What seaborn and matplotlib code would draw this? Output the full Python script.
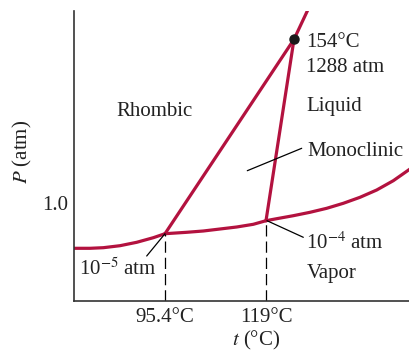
import numpy as np
import pandas as pd
import matplotlib
matplotlib.use("Agg")
import matplotlib.pyplot as plt
import seaborn as sns

# diagrama de fases del azufre (esquematico, unidades del dibujo)
rombico_vapor_x = [0, 16, 29.3, 46, 62.7, 79.3, 91]
rombico_vapor_y = [52.7, 52.7, 53.3, 55.3, 58.7, 63.3, 67.3]
mono_vapor_x = [91, 112.7, 129.3, 146, 162.7, 179.3, 192]
mono_vapor_y = [67.3, 68.7, 70, 72, 74, 76.7, 80.3]
liq_vapor_x = [192, 202.7, 219.3, 236, 252.7, 269.3, 286, 302.7, 319.3, 336]
liq_vapor_y = [80.3, 82.3, 85.3, 88.7, 92.7, 97.7, 103.7, 111, 120.3, 132]
rombico_mono_x = [91, 220]
rombico_mono_y = [67.3, 261.7]
mono_liq_x = [192, 220]
mono_liq_y = [80.3, 261.7]
rombico_liq_x = [220, 238]
rombico_liq_y = [261.7, 300]

punto_triple = (220, 261.7)
xticks = [91, 192]
xtick_labels = ["95.4°C", "119°C"]
ytick = 98.3
ytick_label = "1.0"

sns.set_theme(style="white")
plt.rcParams["font.family"] = ["Liberation Serif", "DejaVu Serif"]
plt.rcParams["mathtext.fontset"] = "stix"
plt.rcParams["text.color"] = "#222222"

rojo = "#B3123F"
fs = 15

fig = plt.figure(figsize=(4.1, 3.5), dpi=100)
ax = fig.add_axes([74 / 410, 49 / 350, 336 / 410, 290 / 350])

curvas = [
    (rombico_vapor_x, rombico_vapor_y),
    (mono_vapor_x, mono_vapor_y),
    (liq_vapor_x, liq_vapor_y),
    (rombico_mono_x, rombico_mono_y),
    (mono_liq_x, mono_liq_y),
    (rombico_liq_x, rombico_liq_y),
]
for cx, cy in curvas:
    df = pd.DataFrame({"x": cx, "y": cy})
    sns.lineplot(data=df, x="x", y="y", ax=ax, color=rojo, lw=2.3,
                 sort=False, estimator=None, solid_capstyle="round",
                 solid_joinstyle="round")

# lineas punteadas hasta el eje
ax.plot([rombico_mono_x[0]] * 2, [0, rombico_mono_y[0]], color="black",
        lw=0.9, linestyle=(0, (9, 4)))
ax.plot([mono_liq_x[0]] * 2, [0, mono_liq_y[0]], color="black",
        lw=0.9, linestyle=(0, (9, 4)))

ax.plot(*punto_triple, "o", color="#1a1a1a", ms=6.5, zorder=5)

# lineas guia de las etiquetas
ax.plot([227.7, 173.3], [152.7, 130.3], color="black", lw=0.9)
ax.plot([193, 229.3], [80.3, 63.7], color="black", lw=0.9)
ax.plot([72.7, 91], [45, 67.3], color="black", lw=0.9)

ax.text(42, 185, "Rhombic", fontsize=fs, va="baseline")
ax.text(232, 254.3, "154°C", fontsize=fs, va="baseline")
ax.text(232, 229.3, "1288 atm", fontsize=fs, va="baseline")
ax.text(232, 190.3, "Liquid", fontsize=fs, va="baseline")
ax.text(233, 145, "Monoclinic", fontsize=fs, va="baseline")
ax.text(232, 51.7, r"10$^{-4}$ atm", fontsize=fs, va="baseline")
ax.text(233, 23.3, "Vapor", fontsize=fs, va="baseline")
ax.text(5, 26, r"10$^{-5}$ atm", fontsize=fs, va="baseline")

ax.set_xlim(0, 336)
ax.set_ylim(0, 290)
ax.set_xticks(xticks)
ax.set_xticklabels(xtick_labels, fontsize=fs, color="#222222")
ax.set_yticks([ytick])
ax.set_yticklabels([ytick_label], fontsize=fs, color="#222222")
ax.tick_params(axis="x", length=0, pad=5)
ax.tick_params(axis="y", direction="in", length=12, width=1, pad=4, color="#333333")
ax.set_xlabel("")
ax.set_ylabel("")
ax.text(182, -39, r"$t$ (°C)", fontsize=fs, ha="center", va="center", clip_on=False)
ax.text(-52, 149, r"$P$ (atm)", fontsize=fs, ha="center", va="center",
        rotation=90, clip_on=False)

for s in ["top", "right"]:
    ax.spines[s].set_visible(False)
for s in ["left", "bottom"]:
    ax.spines[s].set_color("#333333")
    ax.spines[s].set_linewidth(1.2)

fig.savefig("out.png", dpi=100)
